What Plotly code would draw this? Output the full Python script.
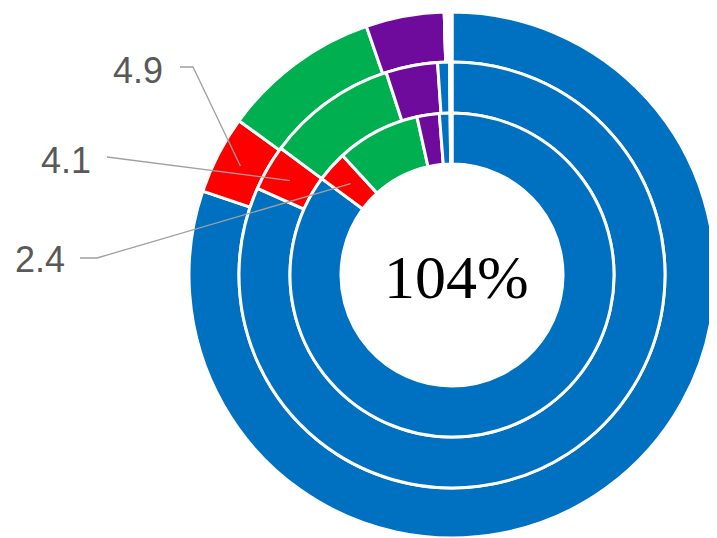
import math
import plotly.graph_objects as go

# ---- data (percent of each ring, clockwise from 12 o'clock) ----
categories = ["A", "B", "C", "D", "E", "(blank)"]
colors = ["#0070C0", "#FF0000", "#00B050", "#6E0A9C", "#0070C0", "#FFFFFF"]
outer_vals = [80.17, 4.81, 9.75, 4.81, 0.0, 0.47]
middle_vals = [81.67, 3.47, 9.86, 3.92, 0.89, 0.19]
inner_vals = [85.14, 3.06, 8.33, 2.22, 1.06, 0.19]
red_labels = ["4.9", "4.1", "2.4"]
center_text = "104%"

W, H = 717, 538
OFF = 8  # page body margin
CX, CY = 452, 275  # screen pixel centre of the rings
FX, FY = CX - OFF, CY - OFF
rings = [  # (values, outer radius px, inner radius px)
    (outer_vals, 263, 213),
    (middle_vals, 213, 162),
    (inner_vals, 162, 111),
]


def px2paper(x, y):
    return (x - OFF) / W, 1 - (y - OFF) / H


fig = go.Figure()
for vals, R, r in rings:
    fig.add_trace(go.Pie(
        labels=categories, values=vals, sort=False, direction="clockwise",
        rotation=0, hole=r / R, textinfo="none", hoverinfo="label+value",
        marker=dict(colors=colors, line=dict(color="white", width=3)),
        domain=dict(x=[(FX - R) / W, (FX + R) / W],
                    y=[(H - FY - R) / H, (H - FY + R) / H]),
        showlegend=False,
    ))


def slice_mid(vals, idx, R, r):
    tot = sum(vals)
    a0 = sum(vals[:idx]) / tot * 360
    a1 = sum(vals[:idx + 1]) / tot * 360
    a = math.radians((a0 + a1) / 2)
    rm = (R + r) / 2
    return CX + rm * math.sin(a), CY - rm * math.cos(a)


# label placement (screen pixels): text centre, line start, optional elbow
label_pos = [((138, 70), (180, 67), (193, 67)),
             ((66, 160), (107, 157), None),
             ((40, 260), (80, 258), (97, 258))]

shapes = []
annotations = []
for (vals, R, r), txt, (tc, st, el) in zip(rings, red_labels, label_pos):
    ex, ey = slice_mid(vals, 1, R, r)
    pts = [st] + ([el] if el else []) + [(ex, ey)]
    path = ""
    for i, (x, y) in enumerate(pts):
        px, py = px2paper(x, y)
        path += ("M" if i == 0 else " L") + f" {px:.5f} {py:.5f}"
    shapes.append(dict(type="path", xref="paper", yref="paper", path=path,
                       line=dict(color="#A0A0A0", width=1.3)))
    tx, ty = px2paper(*tc)
    annotations.append(dict(x=tx, y=ty, xref="paper", yref="paper", text=txt,
                            showarrow=False, xanchor="center", yanchor="middle",
                            font=dict(family="Liberation Sans, Arial", size=36,
                                      color="#595959")))

cx, cy = px2paper(456, 277)
annotations.append(dict(x=cx, y=cy, xref="paper", yref="paper", text=center_text,
                        showarrow=False, xanchor="center", yanchor="middle",
                        font=dict(family="Liberation Serif, Times New Roman",
                                  size=62, color="black")))

fig.update_layout(width=W, height=H, margin=dict(l=0, r=0, t=0, b=0),
                  paper_bgcolor="white", plot_bgcolor="white",
                  shapes=shapes, annotations=annotations)
fig.write_html("out.html")
